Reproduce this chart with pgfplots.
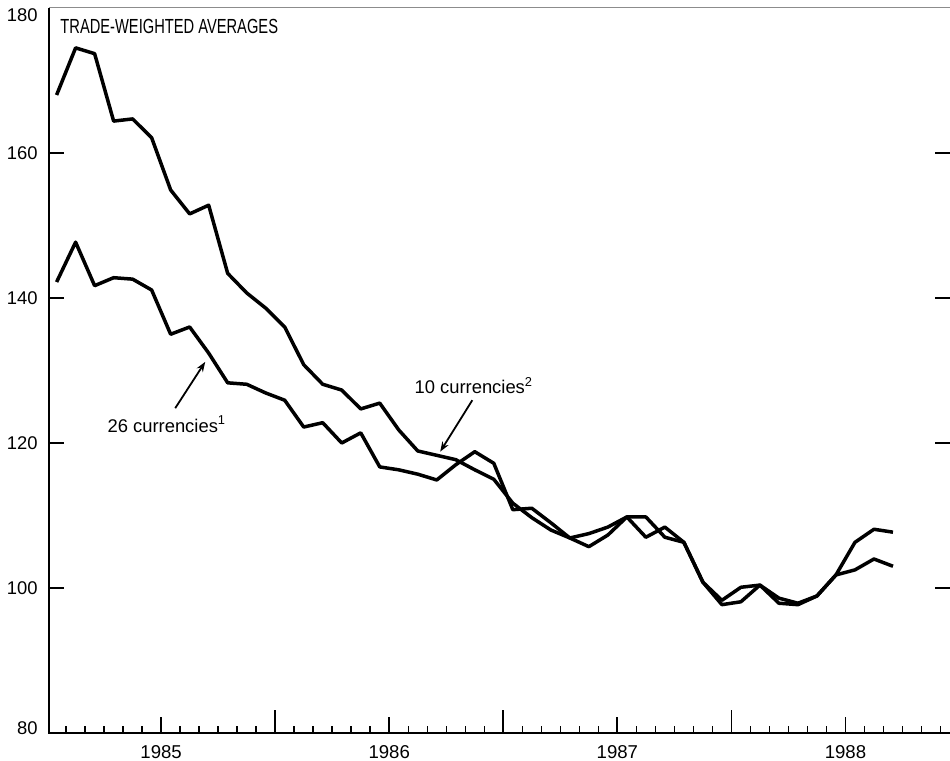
\documentclass[border=0pt]{standalone}
\usepackage{fontspec}
\setmainfont{Liberation Sans}
\newfontfamily\condfont{Liberation Sans}[FakeStretch=0.72]
\usepackage{pgfplots}
\usepackage{pgfplotstable}
\pgfplotsset{compat=1.18}
\usetikzlibrary{arrows.meta,calc}

\pgfplotstableread{
m     ten    twentysix
0.5   168.0  142.2
1.5   174.5  147.7
2.5   173.7  141.7
3.5   164.4  142.8
4.5   164.7  142.6
5.5   162.1  141.1
6.5   154.9  135.0
7.5   151.6  136.0
8.5   152.8  132.4
9.5   143.4  128.3
10.5  140.7  128.1
11.5  138.6  126.9
12.5  136.0  125.9
13.5  130.8  122.2
14.5  128.1  122.8
15.5  127.3  120.0
16.5  124.7  121.4
17.5  125.5  116.7
18.5  121.8  116.3
19.5  118.9  115.7
20.5  118.3  114.9
21.5  117.7  117.0
22.5  116.3  118.8
23.5  115.0  117.2
24.5  111.7  110.8
25.5  109.7  111.0
26.5  108.0  109.0
27.5  106.9  106.9
28.5  105.7  107.5
29.5  107.3  108.4
30.5  109.8  109.8
31.5  109.8  107.0
32.5  107.0  108.4
33.5  106.3  106.3
34.5  100.8  100.8
35.5  97.7   98.3
36.5  98.1   100.1
37.5  100.4  100.4
38.5  98.6   97.9
39.5  97.9   97.7
40.5  98.9   98.9
41.5  101.8  101.8
42.5  106.3  102.5
43.5  108.1  104.0
44.5  107.7  103.0
}\dataTbl

\begin{document}
\begin{tikzpicture}
% axis for year-boundary and monthly ticks
\begin{axis}[
  scale only axis, width=450.5pt, height=362.5pt,
  xmin=0.1, xmax=47.5, ymin=80, ymax=180,
  axis line style={draw=none},
  xtick={12,24,36}, xticklabels={},
  minor xtick={1,...,47},
  ytick=\empty,
  xtick pos=bottom,
  tick align=inside,
  major tick length=11.5pt,
  minor tick length=3.6pt,
  tick style={line width=0.9pt, black},
  minor tick style={line width=0.75pt, black},
]
\end{axis}
% main axis
\begin{axis}[
  scale only axis, width=450.5pt, height=362.5pt,
  xmin=0.1, xmax=47.5, ymin=80, ymax=180,
  axis line style={draw=none},
  clip=false,
  xtick={6,18,30,42}, xticklabels={1985,1986,1987,1988},
  xtick pos=bottom,
  ytick={100,120,140,160},
  ytick pos=both,
  yticklabel pos=left,
  extra y ticks={80,180},
  extra y tick labels={\raisebox{2.5pt}[\height][0pt]{80},\raisebox{-3.5pt}[\height][0pt]{180}},
  extra y tick style={tick style={draw=none}},
  tick align=inside,
  major tick length=7.75pt,
  tick style={line width=0.9pt, black},
  /pgf/number format/assume math mode=true,
  yticklabel style={font=\fontsize{9.2}{10}\selectfont, anchor=east, inner sep=0pt, xshift=-5.5pt},
  xticklabel style={font=\fontsize{9.3}{10}\selectfont, anchor=north, inner sep=0pt, yshift=-6pt},
]
\draw[line width=1pt, black] (rel axis cs:0,1) -- (rel axis cs:0,0) -- (rel axis cs:1,0);
\draw[line width=0.5pt, black!45] (rel axis cs:0,1) -- (rel axis cs:1,1);
\addplot[black, line width=1.75pt, line join=round] table[x=m, y=ten] {\dataTbl};
\addplot[black, line width=1.75pt, line join=round] table[x=m, y=twentysix] {\dataTbl};
\node[anchor=base west, inner sep=0pt, font=\condfont\fontsize{10.2}{11}\selectfont] at (axis cs:0.68,176.55) {TRADE-WEIGHTED AVERAGES};
\node[inner sep=0pt, font=\fontsize{9.2}{10}\selectfont] at (axis cs:6.3,122.6) {26 currencies\textsuperscript{1}};
\draw[-{Stealth[length=5pt,width=3.6pt]}, line width=0.9pt] (axis cs:6.74,124.8) -- (axis cs:8.32,131.2);
\node[inner sep=0pt, font=\fontsize{9.2}{10}\selectfont] at (axis cs:22.45,127.9) {10 currencies\textsuperscript{2}};
\draw[-{Stealth[length=5pt,width=3.6pt]}, line width=0.9pt] (axis cs:22.37,125.9) -- (axis cs:20.68,118.8);
\end{axis}
\pgfresetboundingbox
\path (current axis.south west) ++(-24.5pt,-14pt) rectangle ($(current axis.north east)+(0pt,4pt)$);
\end{tikzpicture}
\end{document}
